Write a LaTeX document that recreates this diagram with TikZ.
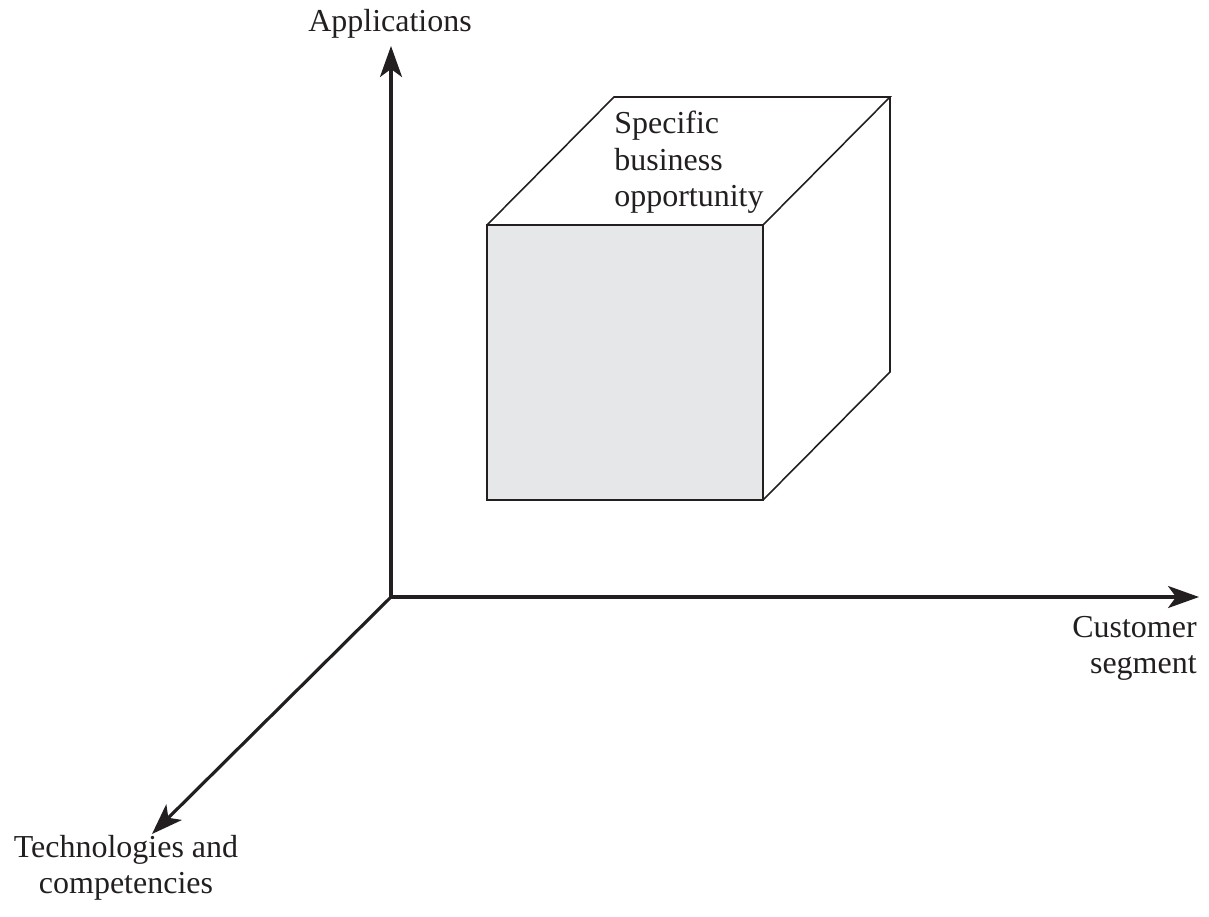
\documentclass[tikz,border=0pt]{standalone}
\usepackage{fontspec}
\setmainfont{Liberation Serif}
\usetikzlibrary{arrows.meta}
\definecolor{ink}{HTML}{231F20}
\definecolor{face}{HTML}{E6E7E8}
\begin{document}
\begin{tikzpicture}[x=0.02cm,y=-0.02cm,
  axis/.style={draw=ink,line width=1.8pt,-{Stealth[length=0.62cm,width=0.44cm,inset=0.16cm]}},
  edge/.style={draw=ink,line width=0.9pt,line join=miter},
  lbl/.style={inner sep=0pt,font=\fontsize{18.2}{20.7}\selectfont,text=ink}]
\useasboundingbox (0,0) rectangle (1209,916);
% axes
\coordinate (O) at (391,597);
\coordinate (Ay) at (391,46);
\coordinate (Ax) at (1199,597);
\coordinate (Az) at (152,834);
\draw[axis] (O) -- (Ay);
\draw[axis] (O) -- (Ax);
\draw[axis] (O) -- (Az);
% cube
\coordinate (f1) at (487,225);
\coordinate (f2) at (763,225);
\coordinate (f3) at (763,500);
\coordinate (f4) at (487,500);
\coordinate (b1) at (614,97);
\coordinate (b2) at (890,97);
\coordinate (b3) at (890,372);
\fill[face] (f1) -- (f2) -- (f3) -- (f4) -- cycle;
\draw[edge] (f1) -- (f2) -- (f3) -- (f4) -- cycle;
\draw[edge] (f1) -- (b1) -- (b2) -- (f2);
\draw[edge] (b2) -- (b3) -- (f3);
% labels
\node[lbl,anchor=north] (lapp) at (390,9) {Applications};
\node[lbl,anchor=north west,align=left] (lsbo) at (614,111) {Specific\\business\\opportunity};
\node[lbl,anchor=north east,align=right] (lcs) at (1197,616) {Customer\\segment};
\node[lbl,anchor=north,align=center] (ltc) at (126,835) {Technologies and\\competencies};
\end{tikzpicture}
\end{document}
